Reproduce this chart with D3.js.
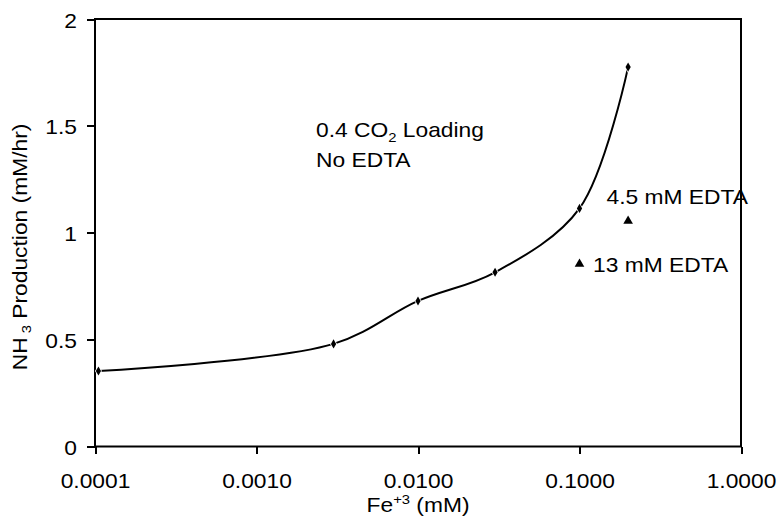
<!DOCTYPE html>
<html>
<head>
<meta charset="utf-8">
<script src="https://d3js.org/d3.v7.min.js"></script>
<style>
body { margin: 0; background: #fff; }
svg { display: block; }
text {
  font-family: "Liberation Sans", Arial, sans-serif;
  font-size: 20px;
  fill: #000;
}
.axis path, .axis line {
  stroke: #000;
  stroke-width: 2;
  shape-rendering: crispEdges;
}
</style>
</head>
<body>
<script>

// Fe+3 concentration (mM) and NH3 production (mM/hr), no EDTA
var fe = [0.000105, 0.003, 0.01, 0.03, 0.1, 0.2];
var nh3 = [0.353, 0.48, 0.681, 0.815, 1.114, 1.775];

// runs with EDTA added
var edtaLabels = ["4.5 mM EDTA", "13 mM EDTA"];
var edtaFe = [0.2, 0.1];
var edtaNh3 = [1.055, 0.854];

var xTicks = [0.0001, 0.001, 0.01, 0.1, 1];
var yTicks = [0, 0.5, 1, 1.5, 2];

var W = 781, H = 518;
var margin = {top: 19, right: 40, bottom: 71.5, left: 95},
    width = W - margin.left - margin.right,
    height = H - margin.top - margin.bottom;
var stretch = 1.14;   // the original font renders wider than Arial

var svg = d3.select("body").append("svg")
    .attr("width", W)
    .attr("height", H);

var g = svg.append("g")
    .attr("transform", "translate(" + margin.left + "," + margin.top + ")");

var x = d3.scaleLog().domain([0.0001, 1]).range([0, width]);
var y = d3.scaleLinear().domain([0, 2]).range([height, 0]);

// plot box
g.append("rect")
    .attr("width", width)
    .attr("height", height)
    .attr("fill", "none")
    .attr("stroke", "#000")
    .attr("stroke-width", 2);

// axes
var xAxis = g.append("g")
    .attr("class", "axis")
    .attr("transform", "translate(0," + height + ")")
    .call(d3.axisBottom(x).tickValues(xTicks).tickSize(7).tickSizeOuter(0)
        .tickFormat(function(d) { return d.toFixed(4); }));
xAxis.selectAll("text")
    .attr("y", 41.6)
    .attr("dy", null)
    .attr("transform", "scale(" + stretch + ",1)");

var yAxis = g.append("g")
    .attr("class", "axis")
    .call(d3.axisLeft(y).tickValues(yTicks).tickSize(8).tickSizeOuter(0)
        .tickFormat(function(d) { return String(d); }));
yAxis.selectAll("text")
    .attr("x", -18 / stretch)
    .attr("dy", null)
    .attr("y", 8)
    .attr("transform", "scale(" + stretch + ",1)");
g.selectAll(".axis .domain").remove();
xAxis.attr("font-size", null).attr("font-family", null);
yAxis.attr("font-size", null).attr("font-family", null);

// axis titles
var xt = svg.append("text")
    .attr("text-anchor", "middle")
    .attr("transform", "translate(" + (margin.left + width / 2) + ",512) scale(" + stretch + ",1)");
xt.append("tspan").text("Fe");
xt.append("tspan").attr("font-size", "13px").attr("dy", -8).text("+3");
xt.append("tspan").attr("dy", 8).text(" (mM)");

var yt = svg.append("text")
    .attr("text-anchor", "middle")
    .attr("transform", "translate(27,247) rotate(-90) scale(" + stretch + ",1)");
yt.append("tspan").text("NH");
yt.append("tspan").attr("font-size", "13px").attr("dy", 4).text(" 3");
yt.append("tspan").attr("dy", -4).text(" Production (mM/hr)");

// smoothed curve
var pts = fe.map(function(d, i) { return [x(d), y(nh3[i])]; });
g.append("path")
    .attr("d", d3.line().curve(d3.curveCatmullRom.alpha(0.5))(pts))
    .attr("fill", "none")
    .attr("stroke", "#000")
    .attr("stroke-width", 2);

g.selectAll(".pt")
    .data(pts)
    .enter().append("path")
    .attr("class", "pt")
    .attr("transform", function(d) { return "translate(" + d[0] + "," + d[1] + ")"; })
    .attr("d", d3.symbol().type(d3.symbolDiamond).size(24))
    .attr("fill", "#000")
    .attr("stroke", "#fff")
    .attr("stroke-width", 1.5)
    .attr("paint-order", "stroke");

// EDTA points
g.selectAll(".tri")
    .data(edtaFe)
    .enter().append("path")
    .attr("class", "tri")
    .attr("transform", function(d, i) { return "translate(" + x(d) + "," + y(edtaNh3[i]) + ")"; })
    .attr("d", d3.symbol().type(d3.symbolTriangle).size(40))
    .attr("fill", "#000");

// annotations
function note(px, py, parts) {
  var t = svg.append("text")
      .attr("transform", "translate(" + px + "," + py + ") scale(" + stretch + ",1)");
  parts.forEach(function(p) {
    var s = t.append("tspan").text(p[0]);
    if (p[1]) s.attr("font-size", "13px").attr("dy", p[1]);
    if (p[2]) s.attr("dy", p[2]);
  });
}
note(316, 137, [["0.4 CO"], ["2", 5], [" Loading", 0, -5]]);
note(316, 167, [["No EDTA"]]);
note(606.5, 204, [[edtaLabels[0]]]);
note(593, 272, [[edtaLabels[1]]]);

</script>
</body>
</html>
